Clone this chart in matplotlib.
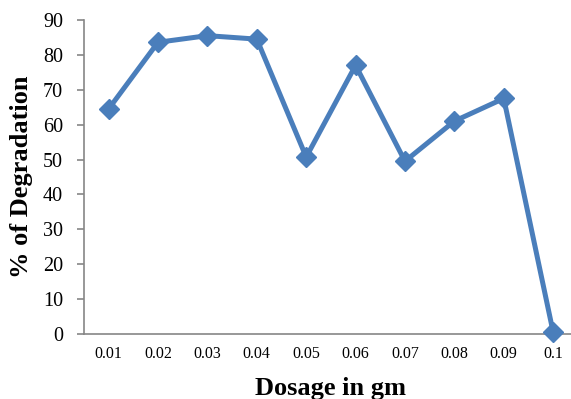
import matplotlib
matplotlib.use("Agg")
import matplotlib.pyplot as plt

dosage = ["0.01", "0.02", "0.03", "0.04", "0.05", "0.06", "0.07", "0.08", "0.09", "0.1"]
degradation = [64.5, 83.6, 85.5, 84.5, 50.7, 77.0, 49.5, 61.0, 67.5, 0.5]
y_ticks = [0, 10, 20, 30, 40, 50, 60, 70, 80, 90]

plt.rcParams["font.family"] = ["Liberation Serif", "DejaVu Serif"]

fig = plt.figure(figsize=(5.71, 3.99), dpi=100)
ax = fig.add_axes([0.147, 0.163, 0.865, 0.787])

x = list(range(len(dosage)))
ax.plot(x, degradation, color="#4a7ebb", linewidth=3.6, marker="D",
        markersize=10, markerfacecolor="#4a7ebb", markeredgecolor="#4a7ebb",
        clip_on=False, zorder=3)

ax.set_xlim(-0.5, len(dosage) - 0.5)
ax.set_ylim(0, 90)
ax.set_yticks(y_ticks)
ax.set_xticks(x)
ax.set_xticklabels(dosage)

for side in ("top", "right"):
    ax.spines[side].set_visible(False)
for side in ("left", "bottom"):
    ax.spines[side].set_color("#868686")
    ax.spines[side].set_linewidth(1.2)

ax.tick_params(axis="y", direction="out", length=5, width=1.2, color="#868686",
               labelsize=14.5, pad=10)
ax.tick_params(axis="x", length=0, labelsize=11.5, pad=9)

ax.set_xlabel("Dosage in gm", fontsize=19, fontweight="bold", labelpad=10.5)
ax.set_ylabel("% of Degradation", fontsize=19, fontweight="bold", labelpad=7)

fig.savefig("out.png", dpi=100)
